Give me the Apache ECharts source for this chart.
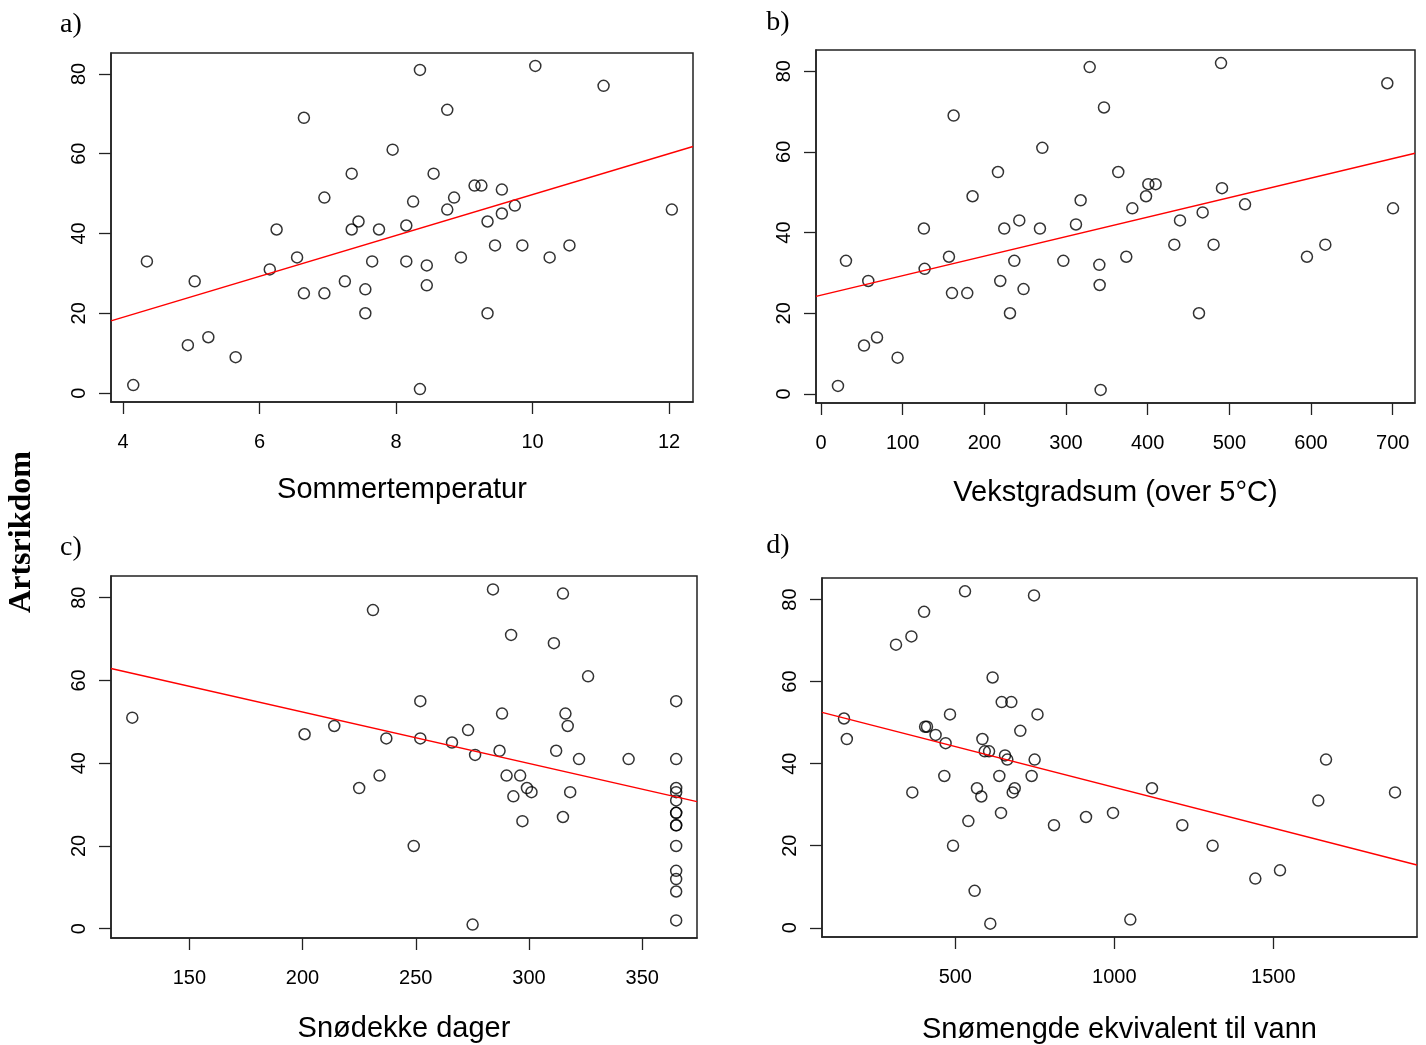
<!DOCTYPE html>
<html>
<head>
<meta charset="utf-8">
<script src="https://cdn.jsdelivr.net/npm/echarts@6/dist/echarts.min.js"></script>
<style>
  html, body { margin: 0; padding: 0; background: #fff; }
  #chart { width: 1426px; height: 1045px; }
</style>
</head>
<body>
<div id="chart"></div>
<script>
// a) Sommertemperatur
var aX = [6.65, 7.95, 7.35, 6.95, 7.45, 6.25, 7.35, 7.75, 6.55, 7.65, 4.35, 6.15, 5.05, 7.25, 7.55, 6.65, 6.95, 7.55, 5.25, 4.95, 5.65, 4.15,
  8.35, 10.04, 11.04, 8.75, 8.55, 8.25, 9.15, 9.25, 9.55, 8.85, 8.75, 9.74, 9.55, 12.04, 8.15, 9.34, 9.45, 9.85, 10.54, 8.15, 10.25, 8.95, 8.45, 8.45, 9.34, 8.35]
var aY = [69, 61, 55, 49, 43, 41, 41, 41, 34, 33, 33, 31, 28, 28, 26, 25, 25, 20, 14, 12, 9, 2,
  81, 82, 77, 71, 55, 48, 52, 52, 51, 49, 46, 47, 45, 46, 42, 43, 37, 37, 37, 33, 34, 34, 32, 27, 20, 1]
var aLine = [[3.824, 18.1], [12.35, 61.8]]
var aTicks = [4, 6, 8, 10, 12]

// b) Vekstgradsum
var bX = [329, 346.5, 162.4, 271, 216.7, 317.9, 185.6, 242.8, 126, 224.4, 268.1, 312.2, 156.7, 30.6, 236.7, 296.7, 340.8, 126.9, 57.9, 219.5,
  341.2, 248, 160.4, 179.1, 231.4, 68.6, 52.7, 93.8, 20.8, 342.4,
  489.8, 693.4, 364, 400.8, 409.7, 491, 398, 381.2, 519.2, 467.3, 700.4, 439.6, 432.6, 480.7, 617.5, 373.8, 595, 462.8]
var bY = [81, 71, 69, 61, 55, 48, 49, 43, 41, 41, 41, 42, 34, 33, 33, 33, 32, 31, 28, 28,
  27, 26, 25, 25, 20, 14, 12, 9, 2, 1,
  82, 77, 55, 52, 52, 51, 49, 46, 47, 45, 46, 43, 37, 37, 37, 34, 34, 20]
var bLine = [[-6.1, 24.2], [727.3, 59.65]]
var bTicks = [0, 100, 200, 300, 400, 500, 600, 700]

// c) Snødekke dager
var cX = [231.1, 124.8, 200.9, 214, 237, 234, 225,
  284.1, 315, 292.1, 311, 326.1, 252, 288.1, 316.1, 317.1, 273.1, 252, 266, 276.2, 287, 312, 322.1, 344, 290.1, 296.1, 299.1,
  301.1, 293.1, 318.2, 315, 297.1, 249.1, 275.1,
  365, 365, 365, 365, 365, 365, 365, 365, 365, 365, 365, 365, 365, 365]
var cY = [77, 51, 47, 49, 46, 37, 34,
  82, 81, 71, 69, 61, 55, 52, 52, 49, 48, 46, 45, 42, 43, 43, 41, 41, 37, 37, 34,
  33, 32, 33, 27, 26, 20, 1,
  55, 41, 34, 33, 31, 28, 28, 25, 25, 20, 14, 12, 9, 2]
var cLine = [[115.4, 62.9], [374.2, 30.7]]
var cTicks = [150, 200, 250, 300, 350]

// d) Snømengde
var dX = [530.5, 747.5, 401.8, 362, 313.5, 617.3, 645.9, 676.1, 483.3, 758.4, 150, 405, 411, 704.4, 438, 158.9, 469.5, 585.2, 592.6, 606.1,
  656.3, 663.5, 749.4, 465.4, 638.4, 740, 568.1, 686.8, 680.5, 364.8, 581.8, 643.7, 541, 810.3, 911, 492.8, 560.7, 610,
  1665.7, 1118.5, 1882.7, 1641.5, 995.9, 1213.8, 1309.1, 1521, 1443.4, 1050.3]
var dY = [82, 81, 77, 71, 69, 61, 55, 55, 52, 52, 51, 49, 49, 48, 47, 46, 45, 46, 43, 43,
  42, 41, 41, 37, 37, 37, 34, 34, 33, 33, 32, 28, 26, 25, 27, 20, 9, 1,
  41, 34, 33, 31, 28, 25, 20, 14, 12, 2]
var dLine = [[80.8, 52.5], [1951.8, 15.3]]
var dTicks = [500, 1000, 1500]

var yTicks = [0, 20, 40, 60, 80]
var yMin = -2.24
var yMax = 85.24

var sans = '"Liberation Sans", Arial, Helvetica, sans-serif'
var serif = '"Liberation Serif", "Times New Roman", serif'

var panels = [
  { x: aX, y: aY, line: aLine, ticks: aTicks, min: 3.824, max: 12.35, name: 'Sommertemperatur', gap: 73, grid: { left: 111, top: 53, width: 582, height: 349 } },
  { x: bX, y: bY, line: bLine, ticks: bTicks, min: -6.1, max: 727.3, name: 'Vekstgradsum (over 5°C)', gap: 75, grid: { left: 816, top: 50, width: 599, height: 353 } },
  { x: cX, y: cY, line: cLine, ticks: cTicks, min: 115.4, max: 374.2, name: 'Snødekke dager', gap: 76, grid: { left: 111, top: 576, width: 586, height: 362 } },
  { x: dX, y: dY, line: dLine, ticks: dTicks, min: 80.8, max: 1951.8, name: 'Snømengde ekvivalent til vann', gap: 78, grid: { left: 822, top: 578, width: 595, height: 361 } }
]

// plain numbers, no thousands separator
function plain(v) { return String(v) }

var grids = [], xAxes = [], yAxes = [], series = []
panels.forEach(function (p, i) {
  grids.push(Object.assign({ show: true, borderColor: '#222', borderWidth: 1.5, backgroundColor: 'transparent' }, p.grid))
  xAxes.push({
    type: 'value', gridIndex: i, min: p.min, max: p.max,
    name: p.name, nameLocation: 'middle', nameGap: p.gap,
    nameTextStyle: { fontSize: 29, color: '#000', fontFamily: sans },
    axisLine: { show: true, onZero: false, lineStyle: { color: '#222', width: 1.5 } },
    axisTick: { show: true, length: 12, customValues: p.ticks, lineStyle: { color: '#222', width: 1.3 } },
    axisLabel: { customValues: p.ticks, formatter: plain, margin: 30, fontSize: 20, color: '#000', fontFamily: sans },
    splitLine: { show: false }
  })
  yAxes.push({
    type: 'value', gridIndex: i, min: yMin, max: yMax,
    axisLine: { show: true, onZero: false, lineStyle: { color: '#222', width: 1.5 } },
    axisTick: { show: true, length: 12, customValues: yTicks, lineStyle: { color: '#222', width: 1.3 } },
    axisLabel: { customValues: yTicks, formatter: plain, rotate: 90, margin: 22, fontSize: 20, color: '#000', fontFamily: sans },
    splitLine: { show: false }
  })
  series.push({
    type: 'scatter', xAxisIndex: i, yAxisIndex: i,
    data: p.x.map(function (v, k) { return [v, p.y[k]] }),
    symbol: 'circle', symbolSize: 11,
    itemStyle: { color: 'rgba(0,0,0,0)', borderColor: '#000', borderWidth: 1.5 },
    silent: true
  })
  series.push({
    type: 'line', xAxisIndex: i, yAxisIndex: i, z: 5,
    data: p.line, showSymbol: false, symbol: 'none',
    lineStyle: { color: '#ff0000', width: 1.4 },
    silent: true
  })
})

var chart = echarts.init(document.getElementById('chart'))
chart.setOption({
  animation: false,
  backgroundColor: '#fff',
  grid: grids,
  xAxis: xAxes,
  yAxis: yAxes,
  series: series,
  graphic: [
    { type: 'text', x: 71, y: 25, style: { text: 'a)', font: '28px ' + serif, fill: '#000', align: 'center', verticalAlign: 'middle' } },
    { type: 'text', x: 778, y: 23, style: { text: 'b)', font: '28px ' + serif, fill: '#000', align: 'center', verticalAlign: 'middle' } },
    { type: 'text', x: 71, y: 548, style: { text: 'c)', font: '28px ' + serif, fill: '#000', align: 'center', verticalAlign: 'middle' } },
    { type: 'text', x: 778, y: 546, style: { text: 'd)', font: '28px ' + serif, fill: '#000', align: 'center', verticalAlign: 'middle' } },
    { type: 'text', x: 22, y: 532, rotation: Math.PI / 2, style: { text: 'Artsrikdom', font: 'bold 32px ' + serif, fill: '#000', align: 'center', verticalAlign: 'middle' } }
  ]
})
</script>
</body>
</html>
